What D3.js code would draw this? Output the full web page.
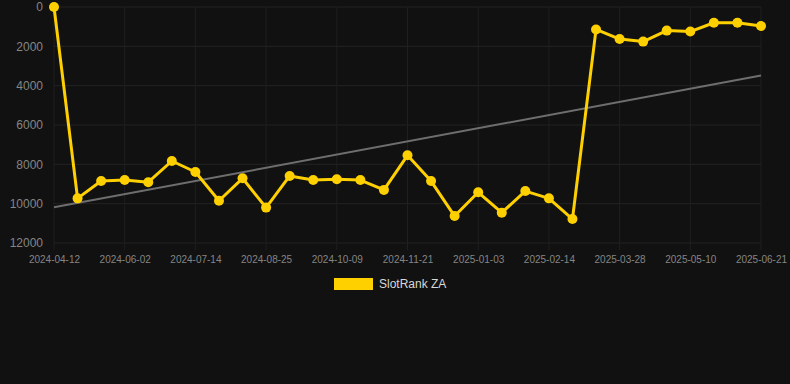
<!DOCTYPE html>
<html>
<head>
  <meta charset="utf-8">
  <script src="https://d3js.org/d3.v7.min.js"></script>
  <style>
    body {margin: 0; background: #111111; font-family: Arial, "Liberation Sans", sans-serif;}
  </style>
</head>
<body>
<div id="chart"></div>
<script>
  // dates for each point (only every third one is labelled)
  const dates = ["2024-04-12", "2024-04-29", "2024-05-16", "2024-06-02", "2024-06-16", "2024-06-30",
                 "2024-07-14", "2024-07-28", "2024-08-11", "2024-08-25", "2024-09-09", "2024-09-24",
                 "2024-10-09", "2024-10-23", "2024-11-06", "2024-11-21", "2024-12-05", "2024-12-19",
                 "2025-01-03", "2025-01-17", "2025-01-31", "2025-02-14", "2025-02-28", "2025-03-14",
                 "2025-03-28", "2025-04-11", "2025-04-25", "2025-05-10", "2025-05-24", "2025-06-07",
                 "2025-06-21"];
  const ranks = [0, 9730, 8850, 8800, 8910, 7830, 8390, 9850, 8710, 10200, 8590, 8800,
                 8760, 8800, 9300, 7540, 8850, 10630, 9420, 10460, 9360, 9730, 10780, 1140,
                 1630, 1760, 1200, 1250, 800, 800, 970];
  const yTicks = [0, 2000, 4000, 6000, 8000, 10000, 12000];
  const seriesName = "SlotRank ZA";

  const W = 790, H = 384;
  const margin = {top: 7, left: 54, right: 29, bottom: 141};
  const innerW = W - margin.left - margin.right;
  const innerH = H - margin.top - margin.bottom;

  const svg = d3.select("#chart").append("svg")
    .attr("width", W).attr("height", H)
    .style("background", "#111111");

  const g = svg.append("g").attr("transform", `translate(${margin.left},${margin.top})`);

  const x = d3.scalePoint().domain(dates).range([0, innerW]);
  const y = d3.scaleLinear().domain([0, 12000]).range([0, innerH]);

  const labelled = dates.filter((d, i) => i % 3 === 0);

  // grid
  g.append("g").selectAll("line").data(yTicks).join("line")
    .attr("x1", 0).attr("x2", innerW)
    .attr("y1", d => y(d)).attr("y2", d => y(d))
    .attr("stroke", "#232323").attr("stroke-width", 1);
  g.append("g").selectAll("line").data(labelled).join("line")
    .attr("x1", d => x(d)).attr("x2", d => x(d))
    .attr("y1", 0).attr("y2", innerH + 7)
    .attr("stroke", "#1f1f1f").attr("stroke-width", 1);

  // axes
  const yAxis = g.append("g").call(d3.axisLeft(y).tickValues(yTicks).tickFormat(d => d).tickSize(0).tickPadding(11));
  yAxis.select(".domain").remove();
  yAxis.selectAll("text").attr("fill", "#858585").style("font-size", "12px")
    .style("font-family", "Arial, 'Liberation Sans', sans-serif");

  const xAxis = g.append("g").attr("transform", `translate(0,${innerH})`)
    .call(d3.axisBottom(x).tickValues(labelled).tickSize(0).tickPadding(13));
  xAxis.select(".domain").remove();
  xAxis.selectAll("text").attr("fill", "#858585").style("font-size", "10px")
    .style("font-family", "Arial, 'Liberation Sans', sans-serif");

  // linear trend over the series
  const n = ranks.length;
  const mx = d3.mean(ranks, (d, i) => i), my = d3.mean(ranks);
  const slope = d3.sum(ranks, (d, i) => (i - mx) * (d - my)) / d3.sum(ranks, (d, i) => (i - mx) ** 2);
  const trend = [0, n - 1].map(i => ({i, v: my + slope * (i - mx)}));
  g.append("line")
    .attr("x1", x(dates[trend[0].i])).attr("y1", y(trend[0].v))
    .attr("x2", x(dates[trend[1].i])).attr("y2", y(trend[1].v))
    .attr("stroke", "#6e6e6e").attr("stroke-width", 2);

  // series
  const line = d3.line().x((d, i) => x(dates[i])).y(d => y(d));
  g.append("path").datum(ranks)
    .attr("d", line).attr("fill", "none")
    .attr("stroke", "#ffd000").attr("stroke-width", 3).attr("stroke-linejoin", "round");
  g.append("g").selectAll("circle").data(ranks).join("circle")
    .attr("cx", (d, i) => x(dates[i])).attr("cy", d => y(d))
    .attr("r", 5).attr("fill", "#ffd000");

  // legend
  const leg = svg.append("g").attr("transform", "translate(334,278)");
  leg.append("rect").attr("width", 39).attr("height", 12).attr("fill", "#ffd000");
  leg.append("text").attr("x", 45).attr("y", 10).text(seriesName)
    .attr("fill", "#d8d8d8").style("font-size", "12px")
    .style("font-family", "Arial, 'Liberation Sans', sans-serif");
</script>
</body>
</html>
